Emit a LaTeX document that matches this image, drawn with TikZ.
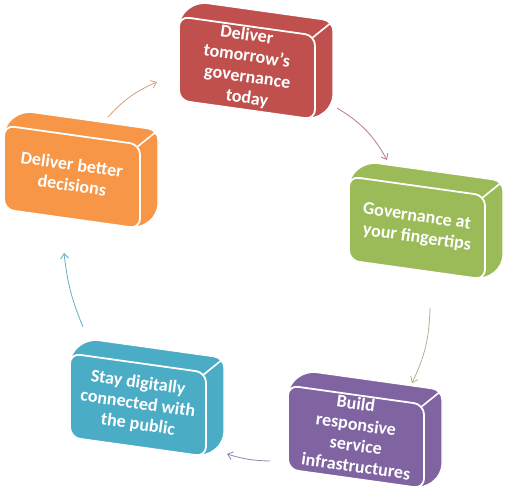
\documentclass[tikz,border=0pt]{standalone}
\usepackage{fontspec}
\usepackage{graphicx}
\setmainfont{Carlito}
\usetikzlibrary{arrows.meta}
\definecolor{cred}{HTML}{C0504D}
\definecolor{cgreen}{HTML}{9BBB59}
\definecolor{cpurple}{HTML}{8064A2}
\definecolor{cteal}{HTML}{4BACC6}
\definecolor{corange}{HTML}{F79646}
\definecolor{ared}{HTML}{B87A80}
\definecolor{agreen}{HTML}{A6B98C}
\definecolor{apurple}{HTML}{8E86AE}
\definecolor{ateal}{HTML}{62AEC2}
\definecolor{aorange}{HTML}{D4A07C}
\newcommand{\tline}[1]{\raisebox{0pt}[0pt][0pt]{\rotatebox[origin=c]{-8}{#1}}}
\tikzset{
  boxtext/.style={text=white, font=\fontsize{18}{21}\selectfont\bfseries, align=center, inner sep=0pt, yshift=-4pt},
  hull/.style={draw=white, line width=1.2pt, rounded corners=10pt},
  face/.style={draw=white, line width=1.8pt, rounded corners=10pt},
  edgeline/.style={white, line width=1.6pt},
  cyclearrow/.style={line width=0.8pt, -{Straight Barb[length=5pt,width=8pt]}},
}
\newcommand{\cubebox}[5]{%
  \begin{scope}[shift={(#2,#3)}, yslant=-0.14]
    \fill[#4, hull] (-68,-42) -- (-68,42) -- (-50,59) -- (86,59) -- (86,-25) -- (68,-42) -- cycle;
    \fill[#4, face] (-68,-42) rectangle (68,42);
    \draw[edgeline] (65.1,39.1) -- (83.3,56.3);
  \end{scope}
  \node[boxtext] (#1) at (#2,#3) {#5};}
\begin{document}
\begin{tikzpicture}[x=1pt, y=1pt]
\useasboundingbox (0,0) rectangle (513,498);
\cubebox{red}{247}{430}{cred}{\tline{Deliver}\\\tline{tomorrow's}\\\tline{governance}\\\tline{today}}
\cubebox{green}{417}{270}{cgreen}{\tline{Governance at}\\\tline{your fingertips}}
\cubebox{purple}{356}{61}{cpurple}{\tline{Build}\\\tline{responsive}\\\tline{service}\\\tline{infrastructures}}
\cubebox{teal}{138}{93}{cteal}{\tline{Stay digitally}\\\tline{connected with}\\\tline{the public}}
\cubebox{orange}{72}{321}{corange}{\tline{Deliver better}\\\tline{decisions}}
\coordinate (a1s) at (337,390);
\coordinate (a1e) at (387,338);
\coordinate (a2s) at (430,190);
\coordinate (a2e) at (412,115);
\coordinate (a3s) at (270,37);
\coordinate (a3e) at (227,44);
\coordinate (a4s) at (83,171);
\coordinate (a4e) at (64,245);
\coordinate (a5s) at (108,381);
\coordinate (a5e) at (157,416);
\draw[cyclearrow, ared] (a1s) to[bend left=15] (a1e);
\draw[cyclearrow, agreen] (a2s) to[bend left=12] (a2e);
\draw[cyclearrow, apurple] (a3s) to[bend left=8] (a3e);
\draw[cyclearrow, ateal] (a4s) to[bend left=8] (a4e);
\draw[cyclearrow, aorange] (a5s) to[bend left=12] (a5e);
\end{tikzpicture}
\end{document}
